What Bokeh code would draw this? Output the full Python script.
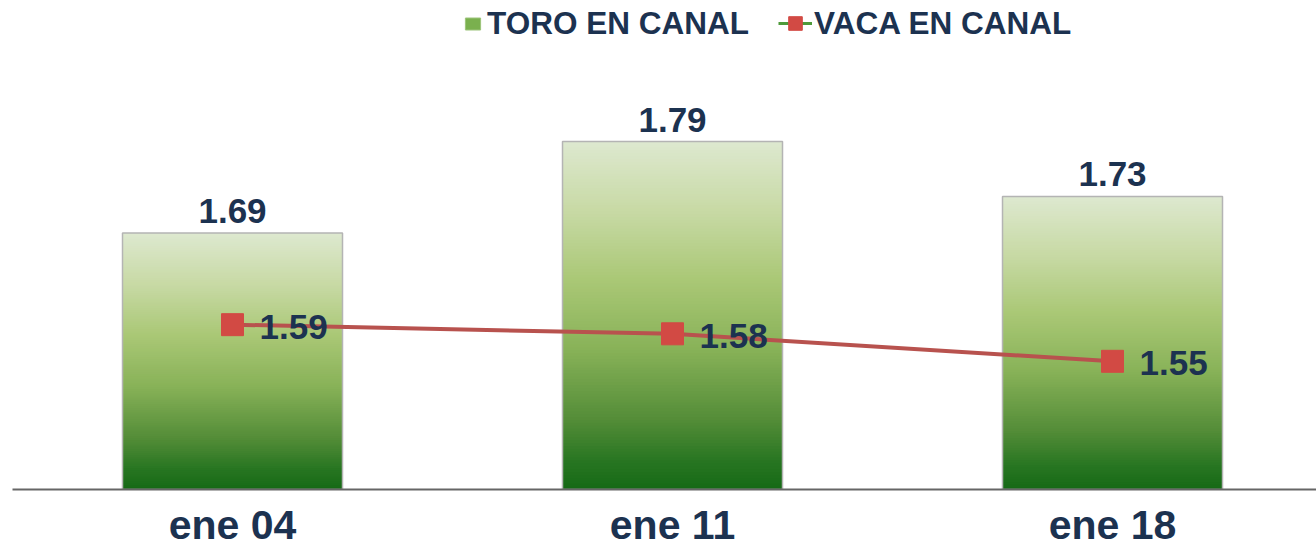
import numpy as np
from bokeh.plotting import figure
from bokeh.models import ColumnDataSource, Range1d, FixedTicker, Legend, LegendItem
from bokeh.core.properties import value
from bokeh.embed import file_html
from bokeh.resources import INLINE

# ---- data ----
categories = ["ene 04", "ene 11", "ene 18"]
toro = [1.69, 1.79, 1.73]
vaca = [1.59, 1.58, 1.55]
series_names = ["TORO EN CANAL", "VACA EN CANAL"]

# ---- styles ----
FONT = "Liberation Sans"
LABEL_COLOR = "#1c3250"
LINE_COLOR = "#b8524e"
MARKER_COLOR = "#d24a44"
Y_BASE = 1.41
Y_TOP = 1.944

xs = list(range(len(categories)))

p = figure(frame_width=1304, frame_height=489, output_backend="svg", toolbar_location=None,
           x_range=Range1d(-0.5, 2.4636), y_range=Range1d(Y_BASE, Y_TOP),
           min_border_left=12, min_border_right=0, min_border_top=0, min_border_bottom=60)
p.outline_line_color = None
p.xgrid.visible = False
p.ygrid.visible = False
p.yaxis.visible = False
p.background_fill_color = "white"
p.border_fill_color = "white"

# gradient stops (t=0 top, t=1 bottom)
stops_t = [0.0, 0.2, 0.4, 0.6, 0.8, 0.92, 1.0]
stops_c = [(222, 233, 208), (200, 218, 165), (170, 200, 118), (136, 178, 88),
           (84, 141, 56), (40, 118, 34), (22, 106, 22)]

def grad_color(t):
    r = np.interp(t, stops_t, [c[0] for c in stops_c])
    g = np.interp(t, stops_t, [c[1] for c in stops_c])
    b = np.interp(t, stops_t, [c[2] for c in stops_c])
    return "#%02x%02x%02x" % (int(r), int(g), int(b))

# gradient: nested bars drawn from tallest (lightest) to shortest (darkest) -> no seams
N = 120
sx, st, sc = [], [], []
for x, v in zip(xs, toro):
    h = (v - Y_BASE) / N
    for k in range(N, 0, -1):
        sx.append(x)
        st.append(Y_BASE + h * k)
        sc.append(grad_color(1 - (k - 0.5) / N))
slices = ColumnDataSource(dict(x=sx, top=st, color=sc))
p.vbar(x="x", bottom=Y_BASE, top="top", width=0.5, fill_color="color", line_color=None, source=slices)

bars = ColumnDataSource(dict(x=xs, top=toro, label=["%.2f" % v for v in toro]))
p.vbar(x="x", bottom=Y_BASE, top="top", width=0.5, fill_color=None, line_color="#b4b4b4", line_width=1.5, source=bars)

line_src = ColumnDataSource(dict(x=xs, y=vaca, label=["%.2f" % v for v in vaca]))
p.line(x="x", y="y", line_color=LINE_COLOR, line_width=4, source=line_src)
p.scatter(x="x", y="y", marker="square", size=22, fill_color=MARKER_COLOR, line_color=MARKER_COLOR, source=line_src)

p.text(x="x", y="top", text="label", source=bars, text_font=value(FONT), text_font_style="bold",
       text_font_size="35px", text_color=LABEL_COLOR, text_align="center", text_baseline="bottom", y_offset=-10)
p.text(x="x", y="y", text="label", source=line_src, text_font=value(FONT), text_font_style="bold",
       text_font_size="35px", text_color=LABEL_COLOR, text_align="left", text_baseline="middle", x_offset=27, y_offset=2)

# legend-only renderers (not drawn on the plot: NaN data)
nan_src = ColumnDataSource(dict(x=[np.nan], y=[np.nan], l=[np.nan], r=[np.nan], b=[np.nan], t=[np.nan]))
lg_bar = p.quad(left="l", right="r", bottom="b", top="t", fill_color="#7ab04e", line_color="#9cc47a",
                line_width=1, source=nan_src)
lg_line = p.line(x="x", y="y", line_color="#4e9a3a", line_width=3, source=nan_src)
lg_mark = p.scatter(x="x", y="y", marker="square", size=16, fill_color=MARKER_COLOR, line_color=MARKER_COLOR, source=nan_src)

common = dict(orientation="horizontal", label_text_font=FONT, label_text_font_style="bold",
              label_text_font_size="31.5px", label_text_color=LABEL_COLOR,
              padding=0, margin=0, border_line_color=None, background_fill_alpha=0)

legend1 = Legend(items=[LegendItem(label=series_names[0], renderers=[lg_bar])],
                 location=(451, 447), glyph_width=19, glyph_height=15, label_standoff=5, **common)
legend2 = Legend(items=[LegendItem(label=series_names[1], renderers=[lg_line, lg_mark])],
                 location=(766, 446), glyph_width=34, glyph_height=40, label_standoff=2, **common)
p.add_layout(legend1)
p.add_layout(legend2)

p.xaxis.ticker = FixedTicker(ticks=xs)
p.xaxis.major_label_overrides = {x: c for x, c in zip(xs, categories)}
p.xaxis.axis_line_color = "#666666"
p.xaxis.axis_line_width = 2
p.xaxis.major_tick_line_color = None
p.xaxis.minor_tick_line_color = None
p.xaxis.major_tick_out = 0
p.xaxis.major_tick_in = 0
p.xaxis.major_label_standoff = 12
p.xaxis.major_label_text_font = FONT
p.xaxis.major_label_text_font_style = "bold"
p.xaxis.major_label_text_font_size = "41px"
p.xaxis.major_label_text_color = LABEL_COLOR

open("out.html", "w").write(file_html(p, INLINE))
